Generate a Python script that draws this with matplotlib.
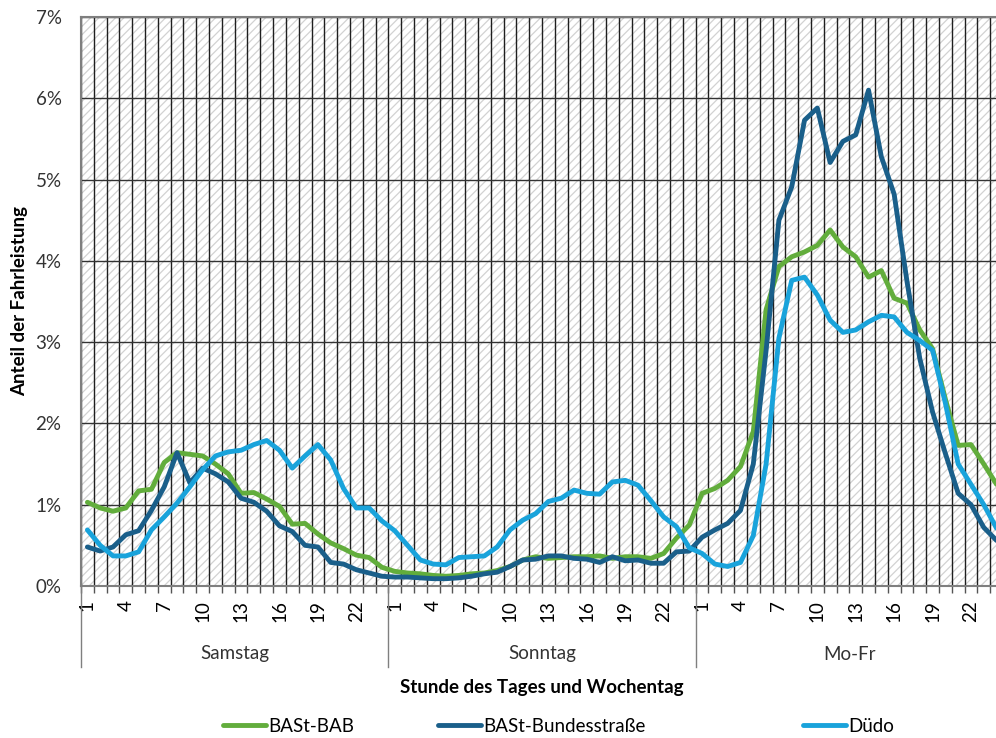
import matplotlib.pyplot as plt
from matplotlib.patches import Rectangle
import numpy as np

plt.rcParams['font.family'] = ['Lato', 'DejaVu Sans']
plt.rcParams['hatch.linewidth'] = 0.9

days = ['Samstag', 'Sonntag', 'Mo-Fr']
tick_hours = [1, 4, 7, 10, 13, 16, 19, 22]
series_names = ['BASt-BAB', 'BASt-Bundesstraße', 'Düdo']

# share of vehicle-km per hour (%), Sa / So / Mo-Fr, 24 values each
bab = [1.03, 0.96, 0.92, 0.96, 1.17, 1.19, 1.52, 1.64, 1.62, 1.60, 1.50, 1.38,
       1.14, 1.15, 1.07, 0.98, 0.76, 0.77, 0.64, 0.53, 0.46, 0.38, 0.35, 0.23,
       0.18, 0.16, 0.15, 0.13, 0.12, 0.13, 0.15, 0.16, 0.19, 0.24, 0.32, 0.36,
       0.34, 0.35, 0.36, 0.36, 0.37, 0.34, 0.36, 0.36, 0.34, 0.40, 0.59, 0.75,
       1.14, 1.20, 1.30, 1.47, 1.90, 3.40, 3.93, 4.05, 4.11, 4.19, 4.38, 4.17,
       4.05, 3.80, 3.88, 3.54, 3.48, 3.15, 2.92, 2.30, 1.73, 1.74, 1.50, 1.25]
bund = [0.48, 0.43, 0.48, 0.63, 0.68, 0.93, 1.22, 1.64, 1.27, 1.45, 1.38, 1.28,
        1.08, 1.03, 0.92, 0.74, 0.67, 0.50, 0.48, 0.29, 0.27, 0.20, 0.16, 0.12,
        0.11, 0.11, 0.10, 0.09, 0.09, 0.10, 0.12, 0.15, 0.17, 0.24, 0.32, 0.33,
        0.37, 0.37, 0.34, 0.33, 0.29, 0.36, 0.31, 0.32, 0.28, 0.28, 0.42, 0.43,
        0.60, 0.69, 0.77, 0.93, 1.50, 2.90, 4.50, 4.91, 5.73, 5.88, 5.21, 5.47,
        5.55, 6.10, 5.28, 4.82, 3.75, 2.80, 2.14, 1.63, 1.14, 1.00, 0.72, 0.56]
duedo = [0.69, 0.50, 0.37, 0.37, 0.42, 0.69, 0.85, 1.02, 1.22, 1.43, 1.60, 1.65,
         1.67, 1.74, 1.79, 1.67, 1.45, 1.60, 1.74, 1.55, 1.20, 0.96, 0.96, 0.80,
         0.68, 0.50, 0.32, 0.27, 0.26, 0.35, 0.36, 0.37, 0.48, 0.69, 0.81, 0.89,
         1.04, 1.08, 1.18, 1.14, 1.13, 1.28, 1.30, 1.24, 1.05, 0.85, 0.73, 0.47,
         0.40, 0.27, 0.24, 0.29, 0.62, 1.50, 3.05, 3.76, 3.80, 3.58, 3.27, 3.12,
         3.15, 3.25, 3.33, 3.31, 3.12, 3.02, 2.90, 2.25, 1.50, 1.25, 1.00, 0.71]
colors = ['#62AD3C', '#1A5F8A', '#19A3DB']

W, H = 996, 738
fig = plt.figure(figsize=(W / 100, H / 100), dpi=100)
# plot area runs past the right edge like in the original
ax = fig.add_axes([81 / W, 152 / H, 922 / W, 569 / H])

ax.add_patch(Rectangle((0, 0), 1, 1, transform=ax.transAxes, facecolor='white',
                       edgecolor='#d2d2d2', hatch='////', lw=0, zorder=0))

n = len(bab)
x = np.arange(n)
lines = []
for vals, c, name in zip([bab, bund, duedo], colors, series_names):
    ln, = ax.plot(x, vals, color=c, lw=3.5, label=name, zorder=3,
                  solid_joinstyle='round', solid_capstyle='round')
    lines.append(ln)

ax.set_xlim(-0.5, n - 0.5)
ax.set_ylim(0, 7)
ax.set_yticks(range(8))
ax.set_yticklabels([f'{v}%' for v in range(8)])
ax.tick_params(axis='y', length=0, pad=14, labelsize=13.5, labelcolor='#333333')

major = [d * 24 + h - 1 for d in range(3) for h in tick_hours]
ax.set_xticks(major)
ax.set_xticklabels([str(h) for d in range(3) for h in tick_hours], rotation=90)
ax.set_xticks(np.arange(-0.5, n, 1), minor=True)
ax.tick_params(axis='x', which='major', length=0, pad=10, labelsize=13.5)
ax.tick_params(axis='x', which='minor', length=5, color='#555555', width=1)

ax.yaxis.grid(True, color='#333333', lw=1)
ax.xaxis.grid(True, which='minor', color='#1e1e1e', lw=1)
ax.xaxis.grid(False, which='major')
ax.set_axisbelow(True)

for s in ['left', 'bottom', 'top']:
    ax.spines[s].set_color('#7f7f7f')
    ax.spines[s].set_linewidth(1.5)
ax.spines['right'].set_visible(False)

trans = ax.get_xaxis_transform()
for d in range(4):
    ax.plot([d * 24 - 0.5] * 2, [0, -81 / 569], transform=trans, color='#7f7f7f',
            lw=1, clip_on=False)
for d, day in enumerate(days):
    ax.text(d * 24 + 11.5, -68 / 569, day, transform=trans, ha='center',
            va='center', fontsize=13.5, color='#333333')

fig.text(542 / W, 1 - 687 / H, 'Stunde des Tages und Wochentag', ha='center',
         va='center', fontsize=13.5, fontweight='bold')
fig.text(20 / W, 1 - 301 / H, 'Anteil der Fahrleistung', ha='center',
         va='center', rotation=90, fontsize=13.5, fontweight='bold')

for ln, x0 in zip(lines, [223, 438, 803]):
    fig.legend(handles=[ln], labels=[ln.get_label()], loc='center left',
               bbox_to_anchor=(x0 / W, 12 / H), frameon=False, borderpad=0,
               borderaxespad=0, handlelength=2.3, handletextpad=0.12,
               fontsize=13.5)

fig.savefig('out.png', dpi=100)
